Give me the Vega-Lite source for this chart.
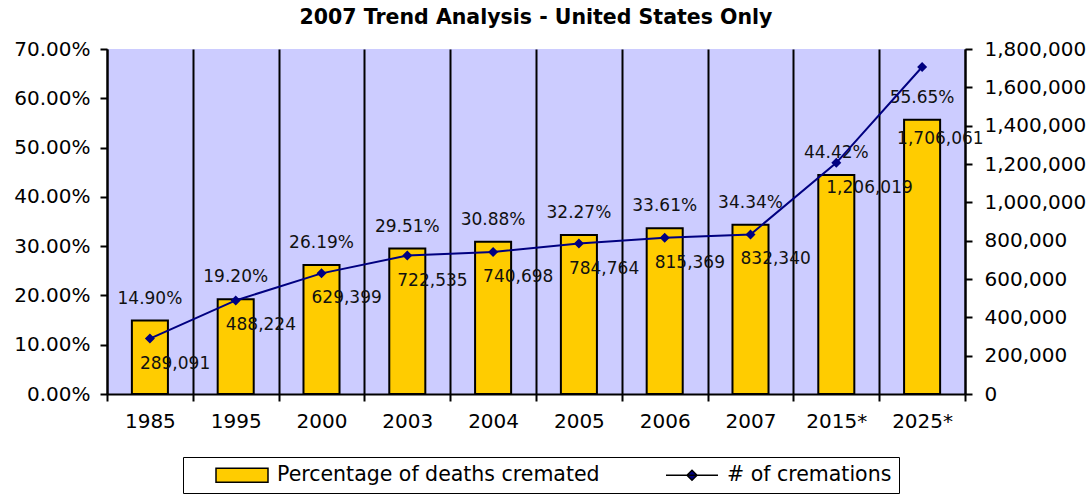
{
  "$schema": "https://vega.github.io/schema/vega-lite/v6.json",
  "autosize": {"type": "none"},
  "width": 858,
  "height": 345,
  "padding": {"left": 107, "top": 49, "right": 123, "bottom": 102},
  "background": "white",
  "title": {"text": "2007 Trend Analysis - United States Only", "font": "DejaVu Sans", "fontSize": 20.5, "fontWeight": "bold", "color": "black", "anchor": "middle", "offset": 11},
  "config": {
    "view": {"fill": "#CCCCFF", "stroke": null},
    "font": "DejaVu Sans",
    "axis": {"labelFont": "DejaVu Sans", "labelFontSize": 20, "labelColor": "black", "domainColor": "black", "domainWidth": 2, "tickColor": "black", "tickWidth": 2, "tickSize": 7, "title": null},
    "legend": {"labelFont": "DejaVu Sans", "labelFontSize": 20.5, "labelColor": "black", "labelLimit": 500}
  },
  "data": {"values": [
    {"year": "1985", "pct": 0.149, "count": 289091},
    {"year": "1995", "pct": 0.192, "count": 488224},
    {"year": "2000", "pct": 0.2619, "count": 629399},
    {"year": "2003", "pct": 0.2951, "count": 722535},
    {"year": "2004", "pct": 0.3088, "count": 740698},
    {"year": "2005", "pct": 0.3227, "count": 784764},
    {"year": "2006", "pct": 0.3361, "count": 815369},
    {"year": "2007", "pct": 0.3434, "count": 832340},
    {"year": "2015*", "pct": 0.4442, "count": 1206019},
    {"year": "2025*", "pct": 0.5565, "count": 1706061}
  ]},
  "encoding": {
    "x": {"field": "year", "type": "ordinal", "sort": null,
      "scale": {"paddingInner": 0, "paddingOuter": 0},
      "axis": {"labelAngle": 0, "tickBand": "extent", "grid": true, "gridColor": "black", "gridWidth": 2, "labelPadding": 10}}
  },
  "layer": [
    {
      "encoding": {
        "y": {"field": "pct", "type": "quantitative",
          "scale": {"domain": [0, 0.7], "nice": false},
          "axis": {"orient": "left", "format": ".2%", "values": [0, 0.1, 0.2, 0.3, 0.4, 0.5, 0.6, 0.7], "grid": false, "labelPadding": 10}}
      },
      "layer": [
        {
          "mark": {"type": "bar", "stroke": "black", "strokeWidth": 2, "width": {"band": 0.42}},
          "encoding": {
            "color": {"datum": "Percentage of deaths cremated", "type": "nominal",
              "scale": {"domain": ["Percentage of deaths cremated", "# of cremations"], "range": ["#FFCC00", "#000080"]},
              "legend": {"orient": "none", "legendX": 76, "legendY": 408, "direction": "horizontal", "title": null, "strokeColor": "black", "padding": 7, "columnPadding": 40, "labelOffset": 24, "symbolOffset": 41, "symbolSize": 400,
                "encode": {"symbols": {"update": {
                  "stroke": {"signal": "datum.value == '# of cremations' ? '#000080' : 'black'"},
                  "strokeWidth": {"value": 2},
                  "opacity": {"value": 1}
                }}, "legend": {"update": {"strokeWidth": {"value": 2}}}}}
            }
          }
        },
        {
          "mark": {"type": "text", "dy": -22, "fontSize": 17, "color": "#111111", "font": "DejaVu Sans"},
          "encoding": {
            "text": {"field": "pct", "type": "quantitative", "format": ".2%"}
          }
        }
      ]
    },
    {
      "encoding": {
        "y": {"field": "count", "type": "quantitative",
          "scale": {"domain": [0, 1800000], "nice": false},
          "axis": {"orient": "right", "format": ",.0f", "values": [0, 200000, 400000, 600000, 800000, 1000000, 1200000, 1400000, 1600000, 1800000], "grid": false, "labelPadding": 12}}
      },
      "layer": [
        {
          "mark": {"type": "line", "strokeWidth": 2, "color": "#000080"}
        },
        {
          "mark": {"type": "point", "filled": true, "size": 400, "opacity": 1, "strokeWidth": 0},
          "encoding": {
            "color": {"datum": "# of cremations", "type": "nominal"},
            "shape": {"datum": "# of cremations", "type": "nominal",
              "scale": {"domain": ["Percentage of deaths cremated", "# of cremations"], "range": ["M-2.6,-0.7H2.6V0.7H-2.6Z", "M-2.6,0H2.6M0,-0.5L0.5,0L0,0.5L-0.5,0Z"]},
              "legend": {"orient": "none", "legendX": 76, "legendY": 408, "direction": "horizontal", "title": null, "strokeColor": "black", "padding": 7, "columnPadding": 40, "labelOffset": 24, "symbolOffset": 41, "symbolSize": 400,
                "encode": {"symbols": {"update": {
                  "stroke": {"signal": "datum.value == '# of cremations' ? '#000080' : 'black'"},
                  "strokeWidth": {"value": 2},
                  "opacity": {"value": 1}
                }}, "legend": {"update": {"strokeWidth": {"value": 2}}}}}
            }
          }
        },
        {
          "transform": [{"filter": "datum.year != '2025*'"}],
          "mark": {"type": "text", "align": "left", "dx": -10, "dy": 25, "fontSize": 17, "color": "#111111", "font": "DejaVu Sans"},
          "encoding": {
            "text": {"field": "count", "type": "quantitative", "format": ","}
          }
        },
        {
          "transform": [{"filter": "datum.year == '2025*'"}],
          "mark": {"type": "text", "align": "left", "dx": -25, "dy": 72, "fontSize": 17, "color": "#111111", "font": "DejaVu Sans"},
          "encoding": {
            "text": {"field": "count", "type": "quantitative", "format": ","}
          }
        }
      ]
    }
  ],
  "resolve": {"scale": {"y": "independent"}}
}
